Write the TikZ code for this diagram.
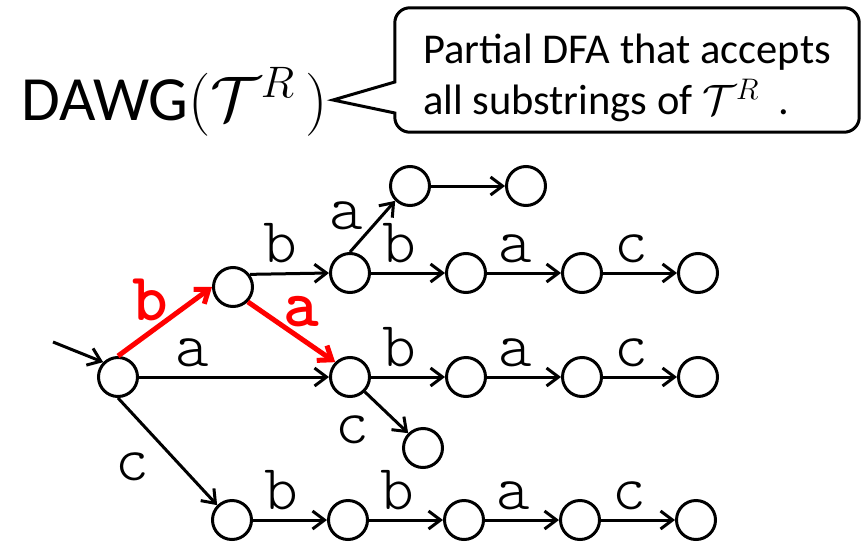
\documentclass[tikz,border=0pt]{standalone}
\usepackage{fix-cm}
\usepackage{fontspec}
\setmainfont{Carlito}
\newfontfamily\labfont{Latin Modern Mono Light}
\usetikzlibrary{arrows.meta,positioning}

\begin{document}
\begin{tikzpicture}[x=1pt, y=-1pt,
    node distance=116pt,
    on grid,
    state/.style={
        circle,
        draw,
        line width=3pt,
        minimum size=39pt,
        inner sep=0pt
    },
    lab/.style={font=\fontsize{64}{64}\selectfont\labfont, inner sep=0pt},
    hlab/.style={lab, anchor=base, xshift=-9pt, yshift=11pt},
    redlab/.style={font=\fontsize{68}{68}\selectfont\labfont\bfseries, text=red, inner sep=0pt},
    edge/.style={->, line width=3pt},
    hot/.style={->, line width=5pt, red},
    >={Straight Barb[length=12pt, width=18pt]}
]
\useasboundingbox (0,0) rectangle (861,543);

% title and remark
\node[anchor=base west, inner sep=0pt, font=\fontsize{63}{63}\selectfont] (title) at (21,120)
    {DAWG$(\mathcal{T}^{R}\,)$};
\node[align=left, minimum width=464pt, minimum height=124pt, inner sep=0pt,
      font=\fontsize{42.5}{51}\selectfont] (note) at (627,70)
    {\rule{0pt}{46pt}Partial DFA that accepts\hspace{10pt}\\all substrings of $\mathcal{T}^{R}$\ \ .};
\coordinate (tip) at (333,100);
\draw[line width=3pt] (tip) -- ([yshift=-12pt]note.west)
    [rounded corners=15pt] -- (note.north west) -- (note.north east)
    -- (note.south east) -- (note.south west)
    [sharp corners] -- ([yshift=-43pt]note.west) -- cycle;

% states
\node[state] (root) at (118,377) {};
\node[state] (n1) at (233,287) {};
\node[state] (n2) at (350,273) {};
\node[state, right=232pt of root] (mid) {};
\node[state] (top1) at (410,186) {};
\node[state, right=of top1] (top2) {};
\node[state, right=of n2] (r1a) {};
\node[state, right=of r1a] (r1b) {};
\node[state, right=of r1b] (r1c) {};
\node[state, right=of mid] (r2a) {};
\node[state, right=of r2a] (r2b) {};
\node[state, right=of r2b] (r2c) {};
\node[state] (cnode) at (423,448) {};
\node[state] (b1) at (232,520) {};
\node[state, right=of b1] (b2) {};
\node[state, right=of b2] (b3) {};
\node[state, right=of b3] (b4) {};
\node[state, right=of b4] (b5) {};

% transitions
\coordinate (start) at (53,342);
\draw[edge] (start) -- (root.north west);
\draw[hot] (root.north) -- node[redlab, xshift=-15pt, yshift=22pt] {b} (n1.west);
\draw[hot] (n1.south east) -- node[redlab, xshift=10pt, yshift=20pt] {a} (mid.north west);
\draw[edge] (root.east) -- node[hlab, pos=.33, xshift=0pt] {a} (mid.west);
\draw[edge] (n1.37) -- node[hlab] {b} (n2.west);
\draw[edge] (n2.north) -- node[lab, xshift=-26pt, yshift=11pt] {a} (top1.south west);
\draw[edge] (top1) -- (top2);
\draw[edge] (n2) -- node[hlab] {b} (r1a);
\draw[edge] (r1a) -- node[hlab] {a} (r1b);
\draw[edge] (r1b) -- node[hlab] {c} (r1c);
\draw[edge] (mid) -- node[hlab] {b} (r2a);
\draw[edge] (r2a) -- node[hlab] {a} (r2b);
\draw[edge] (r2b) -- node[hlab] {c} (r2c);
\draw[edge] (mid.south east) -- node[lab, xshift=-34pt, yshift=-17pt] {c} (cnode.north west);
\draw[edge] (root.south) -- node[lab, xshift=-35pt, yshift=-15pt] {c} (b1.north west);
\draw[edge] (b1) -- node[hlab] {b} (b2);
\draw[edge] (b2) -- node[hlab] {b} (b3);
\draw[edge] (b3) -- node[hlab] {a} (b4);
\draw[edge] (b4) -- node[hlab] {c} (b5);
\end{tikzpicture}
\end{document}
